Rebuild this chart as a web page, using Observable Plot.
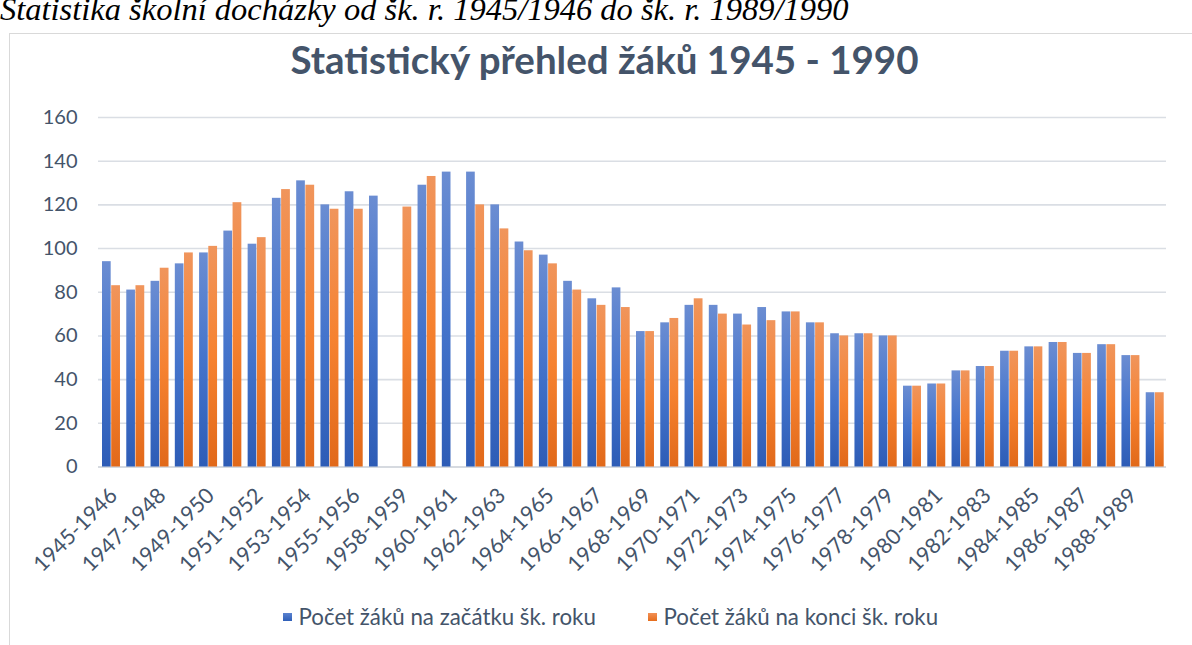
<!DOCTYPE html>
<html><head><meta charset="utf-8">
<script src="https://cdn.jsdelivr.net/npm/d3@7"></script>
<script src="https://cdn.jsdelivr.net/npm/@observablehq/plot@0.6"></script>
<style>
html,body{margin:0;padding:0;background:#fff;}
body{width:1192px;height:645px;overflow:hidden;position:relative;font-family:Lato,"Open Sans",sans-serif;}
#doc{position:absolute;left:0;top:-9px;font-family:"Liberation Serif","Times New Roman",serif;font-style:italic;font-size:32.5px;white-space:nowrap;color:#000;line-height:normal;}
#frame{position:absolute;left:9px;top:33px;width:1300px;height:700px;border:1px solid #d9d9d9;box-sizing:border-box;background:#fff;}
#title{position:absolute;left:0;width:1209px;text-align:center;top:36px;font-size:38.5px;font-weight:700;color:#44546A;white-space:nowrap;}
#chart{position:absolute;left:0;top:100px;}
.leg{position:absolute;top:604px;font-size:22.3px;color:#44546A;display:flex;align-items:center;white-space:nowrap;line-height:26px;}
.sw{width:8.5px;height:8.5px;margin-right:7px;}
</style>
</head><body>
<div id="doc">Statistika školní docházky od šk. r. 1945/1946 do šk. r. 1989/1990</div>
<div id="frame"></div>
<div id="title">Statistický přehled žáků 1945 - 1990</div>
<div id="chart"></div>
<div class="leg" id="leg1"><div class="sw" style="background:linear-gradient(#5b82cf,#2f5fb8)"></div><span id="lab1"></span></div>
<div class="leg" id="leg2"><div class="sw" style="background:linear-gradient(#f29055,#e66d1c)"></div><span id="lab2"></span></div>
<script>
// ---- data ----
const seasons = [
  "1945-1946","1946-1947","1947-1948","1948-1949","1949-1950","1950-1951",
  "1951-1952","1952-1953","1953-1954","1954-1955","1955-1956","1956-1957",
  "1958-1959","1959-1960","1960-1961","1961-1962","1962-1963","1963-1964",
  "1964-1965","1965-1966","1966-1967","1967-1968","1968-1969","1969-1970",
  "1970-1971","1971-1972","1972-1973","1973-1974","1974-1975","1975-1976",
  "1976-1977","1977-1978","1978-1979","1979-1980","1980-1981","1981-1982",
  "1982-1983","1983-1984","1984-1985","1985-1986","1986-1987","1987-1988",
  "1988-1989","1989-1990"
];
const startCounts = [94,81,85,93,98,108,102,123,131,120,126,124,
  null,129,135,135,120,103,97,85,77,82,62,66,74,74,70,73,71,66,61,61,60,
  37,38,44,46,53,55,57,52,56,51,34];
const endCounts = [83,83,91,98,101,121,105,127,129,118,118,null,
  119,133,null,120,109,99,93,81,74,73,62,68,77,70,65,67,71,66,60,61,60,
  37,38,44,46,53,55,57,52,56,51,34];
const seriesNames = ["Počet žáků na začátku šk. roku","Počet žáků na konci šk. roku"];
const xTickLabels = seasons.filter((d,i)=>i%2===0);
const yTicks = [0,20,40,60,80,100,120,140,160];

document.getElementById("lab1").textContent = seriesNames[0];
document.getElementById("lab2").textContent = seriesNames[1];

const startRows = seasons.map((s,i)=>({season:s, value:startCounts[i]})).filter(d=>d.value!=null);
const endRows = seasons.map((s,i)=>({season:s, value:endCounts[i]})).filter(d=>d.value!=null);

const chart = Plot.plot({
  width: 1192,
  height: 495,
  marginLeft: 98,
  marginRight: 26,
  marginTop: 17,
  marginBottom: 128.5,
  style: {fontFamily: "Lato, 'Open Sans', sans-serif", fontSize: "20px", color: "#44546A", background: "transparent", overflow: "visible"},
  x: {domain: seasons, padding: 0, round: false, axis: null},
  y: {domain: [0,160], axis: null},
  marks: [
    Plot.gridY(yTicks, {stroke: "#dadee4", strokeOpacity: 1, strokeWidth: 1.6}),
    Plot.ruleY([0], {stroke: "#d6dae0", strokeWidth: 2}),
    Plot.barY(startRows, {x: "season", y: "value", fill: "url(#gBlue)", insetLeft: 4, insetRight: 11.6}),
    Plot.barY(endRows, {x: "season", y: "value", fill: "url(#gOrange)", insetLeft: 13.2, insetRight: 2.3}),
    Plot.axisY(yTicks, {tickSize: 0, tickPadding: 21, fontSize: 20, label: null}),
    Plot.axisX(xTickLabels, {tickSize: 0, tickPadding: 25, dx: 3, tickRotate: -45, fontSize: 21.5, label: null})
  ]
});
document.getElementById("chart").appendChild(chart);

const defs = d3.select(chart).insert("defs", ":first-child");
function grad(id, stops){
  const g = defs.append("linearGradient").attr("id", id).attr("x1",0).attr("y1",0).attr("x2",0).attr("y2",1);
  stops.forEach(([o,c])=>g.append("stop").attr("offset",o).attr("stop-color",c));
}
grad("gBlue", [[0,"#6b8dd2"],[0.5,"#4474cc"],[1,"#2d5cb6"]]);
grad("gOrange", [[0,"#f0955c"],[0.5,"#f68230"],[1,"#e1691a"]]);

document.getElementById("leg1").style.left = "283px";
document.getElementById("leg2").style.left = "648px";
</script>
</body></html>
